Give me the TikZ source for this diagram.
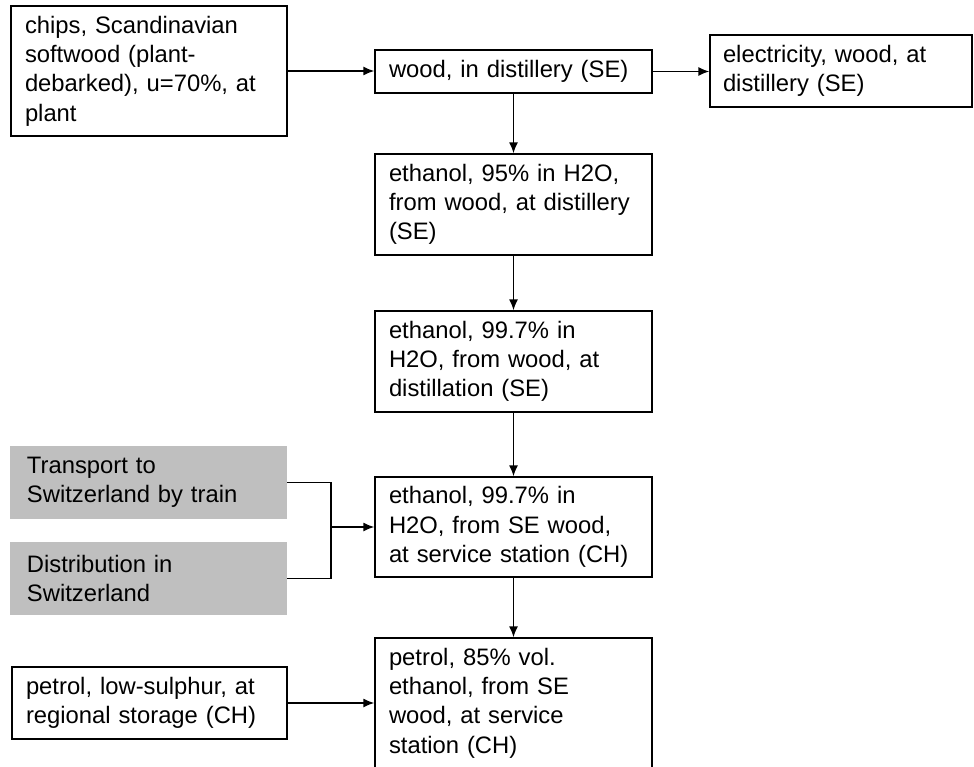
\documentclass[tikz,border=0pt]{standalone}
\usepackage{fontspec}
\setmainfont{Liberation Sans}
\usetikzlibrary{arrows.meta}
\tikzset{
  box/.style={draw, line width=1.3pt, inner xsep=14pt, inner ysep=0pt, align=left,
    font=\fontsize{23.8pt}{29.3pt}\selectfont, anchor=center},
  greybox/.style={fill=black!25, draw=none, inner xsep=17pt, inner ysep=0pt, align=left,
    font=\fontsize{23.8pt}{29.3pt}\selectfont, anchor=center},
  conn/.style={line width=1.5pt},
  arr/.style={line width=1.5pt, -{Latex[length=11pt,width=9pt]}}
}
\begin{document}
\begin{tikzpicture}[x=1pt,y=1pt]
\useasboundingbox (0,0) rectangle (974,-767);
\node[box, minimum width=276pt, text width=248pt, minimum height=130pt] (b1) at (149,-71)
  {chips, Scandinavian\\softwood (plant-\\debarked), u=70\%, at\\plant};
\node[box, minimum width=277pt, text width=249pt, minimum height=43pt] (b2) at (513.5,-71.5)
  {wood, in distillery (SE)};
\node[box, inner xsep=13pt, minimum width=262pt, text width=236pt, minimum height=72pt] (b3) at (841,-71)
  {electricity, wood, at\\distillery (SE)};
\node[box, minimum width=277pt, text width=249pt, minimum height=101pt] (b4) at (513.5,-204.5)
  {ethanol, 95\% in H2O,\\from wood, at distillery\\(SE)};
\node[box, minimum width=277pt, text width=249pt, minimum height=101pt] (b5) at (513.5,-361.5)
  {ethanol, 99.7\% in\\H2O, from wood, at\\distillation (SE)};
\node[box, minimum width=277pt, text width=249pt, minimum height=100pt] (b6) at (513.5,-527)
  {ethanol, 99.7\% in\\H2O, from SE wood,\\at service station (CH)};
\node[box, minimum width=277pt, text width=249pt, minimum height=130pt] (b7) at (513.5,-703)
  {petrol, 85\% vol.\\ethanol, from SE\\wood, at service\\station (CH)};
\node[box, minimum width=275pt, text width=247pt, minimum height=72pt] (b8) at (149.5,-703)
  {petrol, low-sulphur, at\\regional storage (CH)};
\node[greybox, minimum width=277pt, text width=243pt, minimum height=73pt] (t) at (148.5,-482.5)
  {Transport to\\Switzerland by train};
\node[greybox, minimum width=277pt, text width=243pt, minimum height=73pt] (d) at (148.5,-578.5)
  {Distribution in\\Switzerland};
\coordinate (j) at (331,-527);
\draw[arr] (b1.east) -- (b1.east -| b2.west);
\draw[arr] (b2.east) -- (b2.east -| b3.west);
\draw[arr] (b2.south) -- (b4.north);
\draw[arr] (b4.south) -- (b5.north);
\draw[arr] (b5.south) -- (b6.north);
\draw[arr] (b6.south) -- (b7.north);
\draw[conn] (t.east) -| (j);
\draw[conn] (d.east) -| (j);
\draw[arr] (j) -- (b6.west);
\draw[arr] (b8.east) -- (b8.east -| b7.west);
\end{tikzpicture}
\end{document}
